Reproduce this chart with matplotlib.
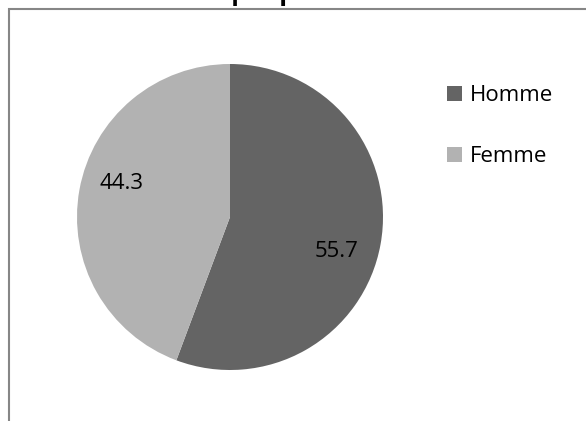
import matplotlib
matplotlib.use("Agg")
import matplotlib.pyplot as plt
from matplotlib.patches import Rectangle
import numpy as np

categories = ["Homme", "Femme"]
values = [55.7, 44.3]
colors = ["#646464", "#b2b2b2"]
title = "Graphique n°3"

plt.rcParams['font.family'] = ['Open Sans', 'DejaVu Sans']

W, H = 586, 421
fig = plt.figure(figsize=(W / 100, H / 100), dpi=100)
fig.patch.set_facecolor("white")

# chart frame (cropped on right/bottom)
fig.patches.append(Rectangle((9 / W, -0.2), 1.5, (H - 9) / H + 0.2,
                             transform=fig.transFigure, fill=False,
                             edgecolor="#868686", linewidth=1.5))

cx, cy, r = 230, 421 - 217, 153
ax = fig.add_axes([(cx - r) / W, (cy - r) / H, 2 * r / W, 2 * r / H])
wedges, _ = ax.pie(values, colors=colors, startangle=90, counterclock=False,
                   radius=1, wedgeprops=dict(linewidth=0))
ax.set_xlim(-1, 1)
ax.set_ylim(-1, 1)
ax.set_aspect("equal")
ax.axis("off")

label_pos = [(0.73, -17.9), (0.74, 162.9)]
for v, (rr, ang) in zip(values, label_pos):
    a = np.deg2rad(ang)
    ax.text(rr * np.cos(a), rr * np.sin(a), f"{v:.1f}", ha="center", va="center",
            fontsize=16, color="#000000")

leg = fig.legend(wedges, categories, loc="upper left",
                 bbox_to_anchor=(447 / W, 1 - 85 / H), frameon=False,
                 fontsize=16, handlelength=0.68, handleheight=0.68,
                 handletextpad=0.35, labelspacing=1.82, borderaxespad=0,
                 borderpad=0)

fig.text(277 / W, 1 - 0.5 / H, title, ha="center", va="baseline",
         fontsize=18, fontweight="bold", color="#000000")

fig.savefig("out.png", dpi=100)
